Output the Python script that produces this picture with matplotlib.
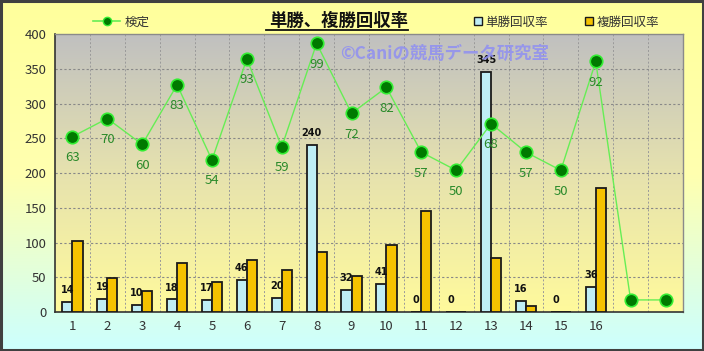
import numpy as np
import matplotlib.pyplot as plt
from matplotlib.colors import LinearSegmentedColormap
from matplotlib.lines import Line2D
from matplotlib.patches import Rectangle, Patch

plt.rcParams['font.family'] = ['Noto Sans CJK JP', 'DejaVu Sans']

# data
races = ['1', '2', '3', '4', '5', '6', '7', '8', '9', '10', '11', '12', '13', '14', '15', '16', '', '']
tan = [14, 19, 10, 18, 17, 46, 20, 240, 32, 41, 0, 0, 345, 16, 0, 36]
fuku = [102, 49, 30, 70, 43, 75, 61, 86, 52, 96, 145, 0, 78, 8, 0, 179]
kentei = [63, 70, 60, 83, 54, 93, 59, 99, 72, 82, 57, 50, 68, 57, 50, 92, 0, 0]
kentei_labels = ['63', '70', '60', '83', '54', '93', '59', '99', '72', '82', '57', '50', '68', '57', '50', '92', '', '']

fig = plt.figure(figsize=(7.04, 3.51), dpi=100)

# figure background gradient (yellow -> light cyan)
bg = fig.add_axes([0, 0, 1, 1], zorder=-10)
bg_cmap = LinearSegmentedColormap.from_list('bg', ['#ffff9c', '#ffffb0', '#ccffff'])
bg.imshow(np.linspace(0, 1, 256).reshape(-1, 1), cmap=bg_cmap, aspect='auto', extent=[0, 1, 0, 1])
bg.axis('off')
fig.add_artist(Rectangle((0.001, 0.002), 0.997, 0.995, transform=fig.transFigure,
                         fill=False, edgecolor='#404040', lw=2.2))

ax = fig.add_axes([0.0781, 0.1111, 0.892, 0.792])
x = np.arange(len(races))
ax.set_xlim(-0.5, len(races) - 0.5)
ax.set_ylim(0, 400)

# plot area gradient (gray top -> yellow bottom)
pa_cmap = LinearSegmentedColormap.from_list('pa', ['#c0c0c0', '#e6e2ae', '#fffa9c'])
ax.imshow(np.linspace(0, 1, 256).reshape(-1, 1), cmap=pa_cmap, aspect='auto',
          extent=[-0.5, len(races) - 0.5, 0, 400], zorder=0)

for v in np.arange(0.5, len(races) - 0.5, 1):
    ax.axvline(v, color='#999999', lw=0.7, ls=(0, (2, 2)), zorder=1)
for h in range(50, 400, 50):
    ax.axhline(h, color='#888888', lw=0.8, ls=(0, (2, 2)), zorder=1)

w = 0.29
xb = np.arange(len(tan))
ax.bar(xb - w / 2, tan, width=w, color='#bfeef5', edgecolor='#1a1a1a', lw=1.3, zorder=3)
ax.bar(xb + w / 2, fuku, width=w, color='#f5c200', edgecolor='#1a1a1a', lw=1.3, zorder=3)
for i, v in enumerate(tan):
    ax.annotate(str(v), (xb[i] - w / 2, v), xytext=(0, 5), textcoords='offset points',
                ha='center', va='bottom', fontsize=7, fontweight='bold', color='#111111',
                family='DejaVu Sans', zorder=5)

ax.set_yticks(range(0, 401, 50))
ax.set_xticks(x)
ax.set_xticklabels(races)
ax.tick_params(length=0, labelsize=9.5, colors='#333333', pad=6)
for s in ['top', 'right']:
    ax.spines[s].set_color('#8a8a8a')
    ax.spines[s].set_linewidth(1)
for s in ['left', 'bottom']:
    ax.spines[s].set_color('#333333')
    ax.spines[s].set_linewidth(1.2)

# kentei line on hidden secondary scale
ax2 = ax.twinx()
ax2.set_ylim(-4.66, 102.6)
ax2.axis('off')
ax2.plot(x, kentei, color='#66ee55', lw=1, marker='o', ms=9,
         markerfacecolor='#007a00', markeredgecolor='#33ee33', markeredgewidth=1.2, zorder=4)
for i, t in enumerate(kentei_labels):
    ax2.annotate(t, (x[i], kentei[i]), xytext=(0, -15), textcoords='offset points',
                 ha='center', va='center', fontsize=9.5, color='#2a8a2a', zorder=6)

# watermark
ax.text(0.62, 0.93, '©Caniの競馬データ研究室', transform=ax.transAxes, ha='center', va='center',
        fontsize=12.5, fontweight='bold', color='#8f8ff2', alpha=0.85, zorder=7)

# title
fig.text(0.4815, 0.94, '単勝、複勝回収率', ha='center', va='center', fontsize=12.5, fontweight='bold',
         color='#111111')
fig.add_artist(Line2D([266 / 704, 408 / 704], [1 - 30 / 351, 1 - 30 / 351], color='#111111', lw=1.3))

# legends
h1 = [Line2D([0], [0], color='#66ee55', lw=1.2, marker='o', ms=6,
             markerfacecolor='#007a00', markeredgecolor='#33ee33')]
fig.legend(h1, ['検定'], loc='center', bbox_to_anchor=(0.172, 0.937), frameon=False,
           fontsize=9, handlelength=2.2, handletextpad=0.3, labelcolor='#333333')
h2 = [Patch(facecolor='#bfeef5', edgecolor='#1a1a1a'), Patch(facecolor='#f5c200', edgecolor='#1a1a1a')]
fig.legend(h2, ['単勝回収率', '複勝回収率'], loc='center', bbox_to_anchor=(0.805, 0.937), ncol=2,
           frameon=False, fontsize=9, handlelength=0.6, handleheight=0.6, handletextpad=0.3,
           columnspacing=3.0, labelcolor='#333333')

plt.savefig('out.png', dpi=100)
